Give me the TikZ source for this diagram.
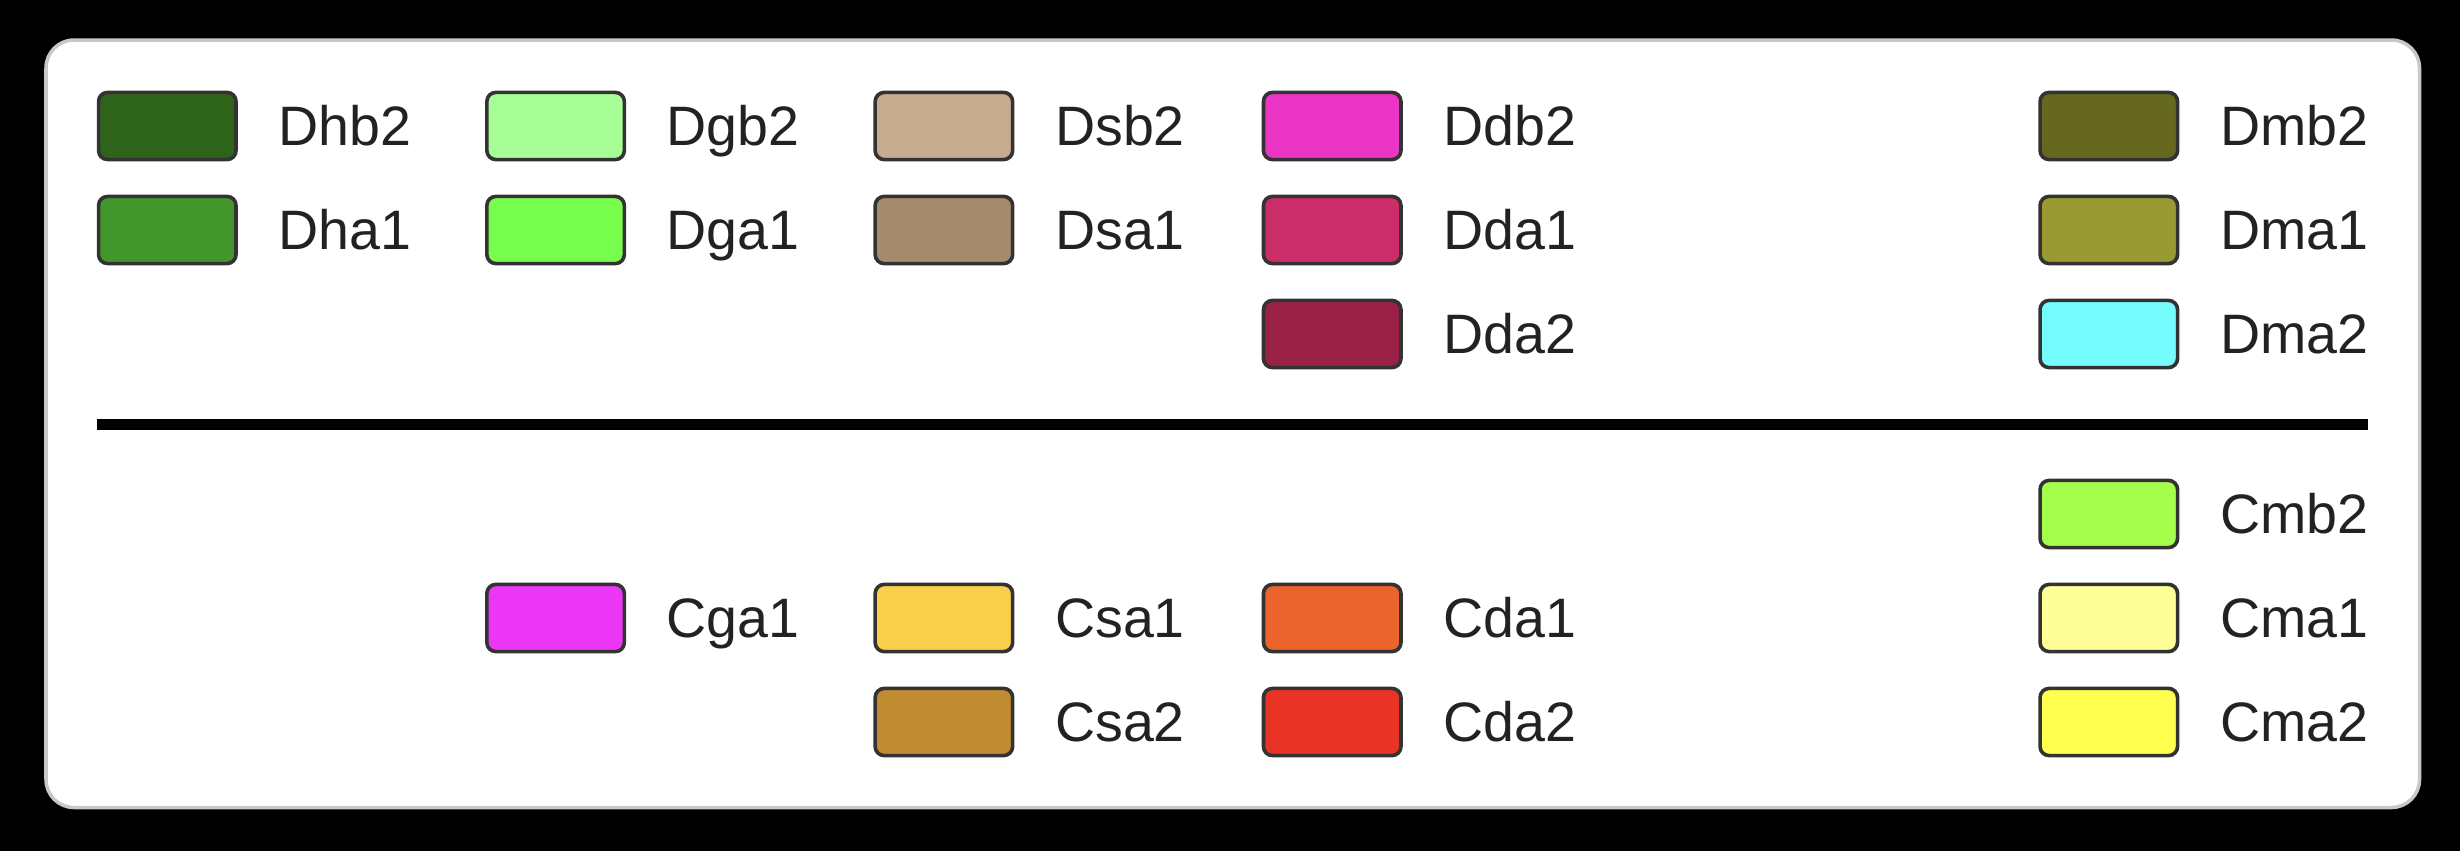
\documentclass[tikz,border=0pt]{standalone}
\usepackage{fontspec}
\setmainfont{Liberation Sans}
\usetikzlibrary{positioning}

\definecolor{panelgray}{HTML}{C8C8C8}
\definecolor{swline}{HTML}{333333}
\definecolor{txtcol}{HTML}{222222}

\definecolor{Dhb2col}{HTML}{2E641A}
\definecolor{Dha1col}{HTML}{43962B}
\definecolor{Dgb2col}{HTML}{A7FE96}
\definecolor{Dga1col}{HTML}{77FD4B}
\definecolor{Dsb2col}{HTML}{C6AB8E}
\definecolor{Dsa1col}{HTML}{A68A6D}
\definecolor{Ddb2col}{HTML}{EA35C7}
\definecolor{Dda1col}{HTML}{CB2D68}
\definecolor{Dda2col}{HTML}{9B2045}
\definecolor{Dmb2col}{HTML}{676820}
\definecolor{Dma1col}{HTML}{9A9A32}
\definecolor{Dma2col}{HTML}{75FDFD}
\definecolor{Cmb2col}{HTML}{A6FE4C}
\definecolor{Cma1col}{HTML}{FEFF98}
\definecolor{Cma2col}{HTML}{FEFF4E}
\definecolor{Cga1col}{HTML}{EB36F5}
\definecolor{Csa1col}{HTML}{F8CE4A}
\definecolor{Csa2col}{HTML}{C18B31}
\definecolor{Cda1col}{HTML}{EB642E}
\definecolor{Cda2col}{HTML}{E93324}

\tikzset{
    swatch/.style={draw=swline, line width=0.036cm, rounded corners=0.09cm,
        minimum width=1.374cm, minimum height=0.671cm, inner sep=0pt},
    lbl/.style={text=txtcol, font=\fontsize{15.8}{18}\selectfont,
        inner sep=0pt, text height=0.39cm, text depth=0pt},
}

\begin{document}
\begin{tikzpicture}[x=0.01cm, y=-0.01cm]

        \pgfmathsetmacro{\colw}{388.3};
        \pgfmathsetmacro{\rowh}{104};
        \pgfmathsetmacro{\xa}{167.3};
        \pgfmathsetmacro{\ytop}{126};
        \pgfmathsetmacro{\ybot}{514};

        \fill[black] (0,0) rectangle (2460,851);
        \useasboundingbox (0,0) rectangle (2460,851);
        \draw[panelgray, line width=0.035cm, fill=white, rounded corners=0.28cm] (46,40) rectangle (2419.5,807.5);

        % top block
        \node[swatch, fill=Dhb2col] (Dhb2) at (\xa, \ytop) {};
        \node[lbl, right=0.40cm of Dhb2] (Dhb2txt) {Dhb2};
        \node[swatch, fill=Dha1col] (Dha1) at (\xa, \ytop+\rowh) {};
        \node[lbl, right=0.40cm of Dha1] (Dha1txt) {Dha1};

        \node[swatch, fill=Dgb2col] (Dgb2) at (\xa+\colw, \ytop) {};
        \node[lbl, right=0.40cm of Dgb2] (Dgb2txt) {Dgb2};
        \node[swatch, fill=Dga1col] (Dga1) at (\xa+\colw, \ytop+\rowh) {};
        \node[lbl, right=0.40cm of Dga1] (Dga1txt) {Dga1};

        \node[swatch, fill=Dsb2col] (Dsb2) at (\xa+2*\colw, \ytop) {};
        \node[lbl, right=0.40cm of Dsb2] (Dsb2txt) {Dsb2};
        \node[swatch, fill=Dsa1col] (Dsa1) at (\xa+2*\colw, \ytop+\rowh) {};
        \node[lbl, right=0.40cm of Dsa1] (Dsa1txt) {Dsa1};

        \node[swatch, fill=Ddb2col] (Ddb2) at (\xa+3*\colw, \ytop) {};
        \node[lbl, right=0.40cm of Ddb2] (Ddb2txt) {Ddb2};
        \node[swatch, fill=Dda1col] (Dda1) at (\xa+3*\colw, \ytop+\rowh) {};
        \node[lbl, right=0.40cm of Dda1] (Dda1txt) {Dda1};
        \node[swatch, fill=Dda2col] (Dda2) at (\xa+3*\colw, \ytop+2*\rowh) {};
        \node[lbl, right=0.40cm of Dda2] (Dda2txt) {Dda2};

        \node[swatch, fill=Dmb2col] (Dmb2) at (\xa+5*\colw, \ytop) {};
        \node[lbl, right=0.40cm of Dmb2] (Dmb2txt) {Dmb2};
        \node[swatch, fill=Dma1col] (Dma1) at (\xa+5*\colw, \ytop+\rowh) {};
        \node[lbl, right=0.40cm of Dma1] (Dma1txt) {Dma1};
        \node[swatch, fill=Dma2col] (Dma2) at (\xa+5*\colw, \ytop+2*\rowh) {};
        \node[lbl, right=0.40cm of Dma2] (Dma2txt) {Dma2};

        % separator
        \coordinate (sepL) at (97,424);
        \coordinate (sepR) at (2368,424);
        \draw[line width=0.11cm] (sepL) -- (sepR);

        % bottom block
        \node[swatch, fill=Cga1col] (Cga1) at (\xa+\colw, \ybot+\rowh) {};
        \node[lbl, right=0.40cm of Cga1] (Cga1txt) {Cga1};

        \node[swatch, fill=Csa1col] (Csa1) at (\xa+2*\colw, \ybot+\rowh) {};
        \node[lbl, right=0.40cm of Csa1] (Csa1txt) {Csa1};
        \node[swatch, fill=Csa2col] (Csa2) at (\xa+2*\colw, \ybot+2*\rowh) {};
        \node[lbl, right=0.40cm of Csa2] (Csa2txt) {Csa2};

        \node[swatch, fill=Cda1col] (Cda1) at (\xa+3*\colw, \ybot+\rowh) {};
        \node[lbl, right=0.40cm of Cda1] (Cda1txt) {Cda1};
        \node[swatch, fill=Cda2col] (Cda2) at (\xa+3*\colw, \ybot+2*\rowh) {};
        \node[lbl, right=0.40cm of Cda2] (Cda2txt) {Cda2};

        \node[swatch, fill=Cmb2col] (Cmb2) at (\xa+5*\colw, \ybot) {};
        \node[lbl, right=0.40cm of Cmb2] (Cmb2txt) {Cmb2};
        \node[swatch, fill=Cma1col] (Cma1) at (\xa+5*\colw, \ybot+\rowh) {};
        \node[lbl, right=0.40cm of Cma1] (Cma1txt) {Cma1};
        \node[swatch, fill=Cma2col] (Cma2) at (\xa+5*\colw, \ybot+2*\rowh) {};
        \node[lbl, right=0.40cm of Cma2] (Cma2txt) {Cma2};

\end{tikzpicture}
\end{document}
